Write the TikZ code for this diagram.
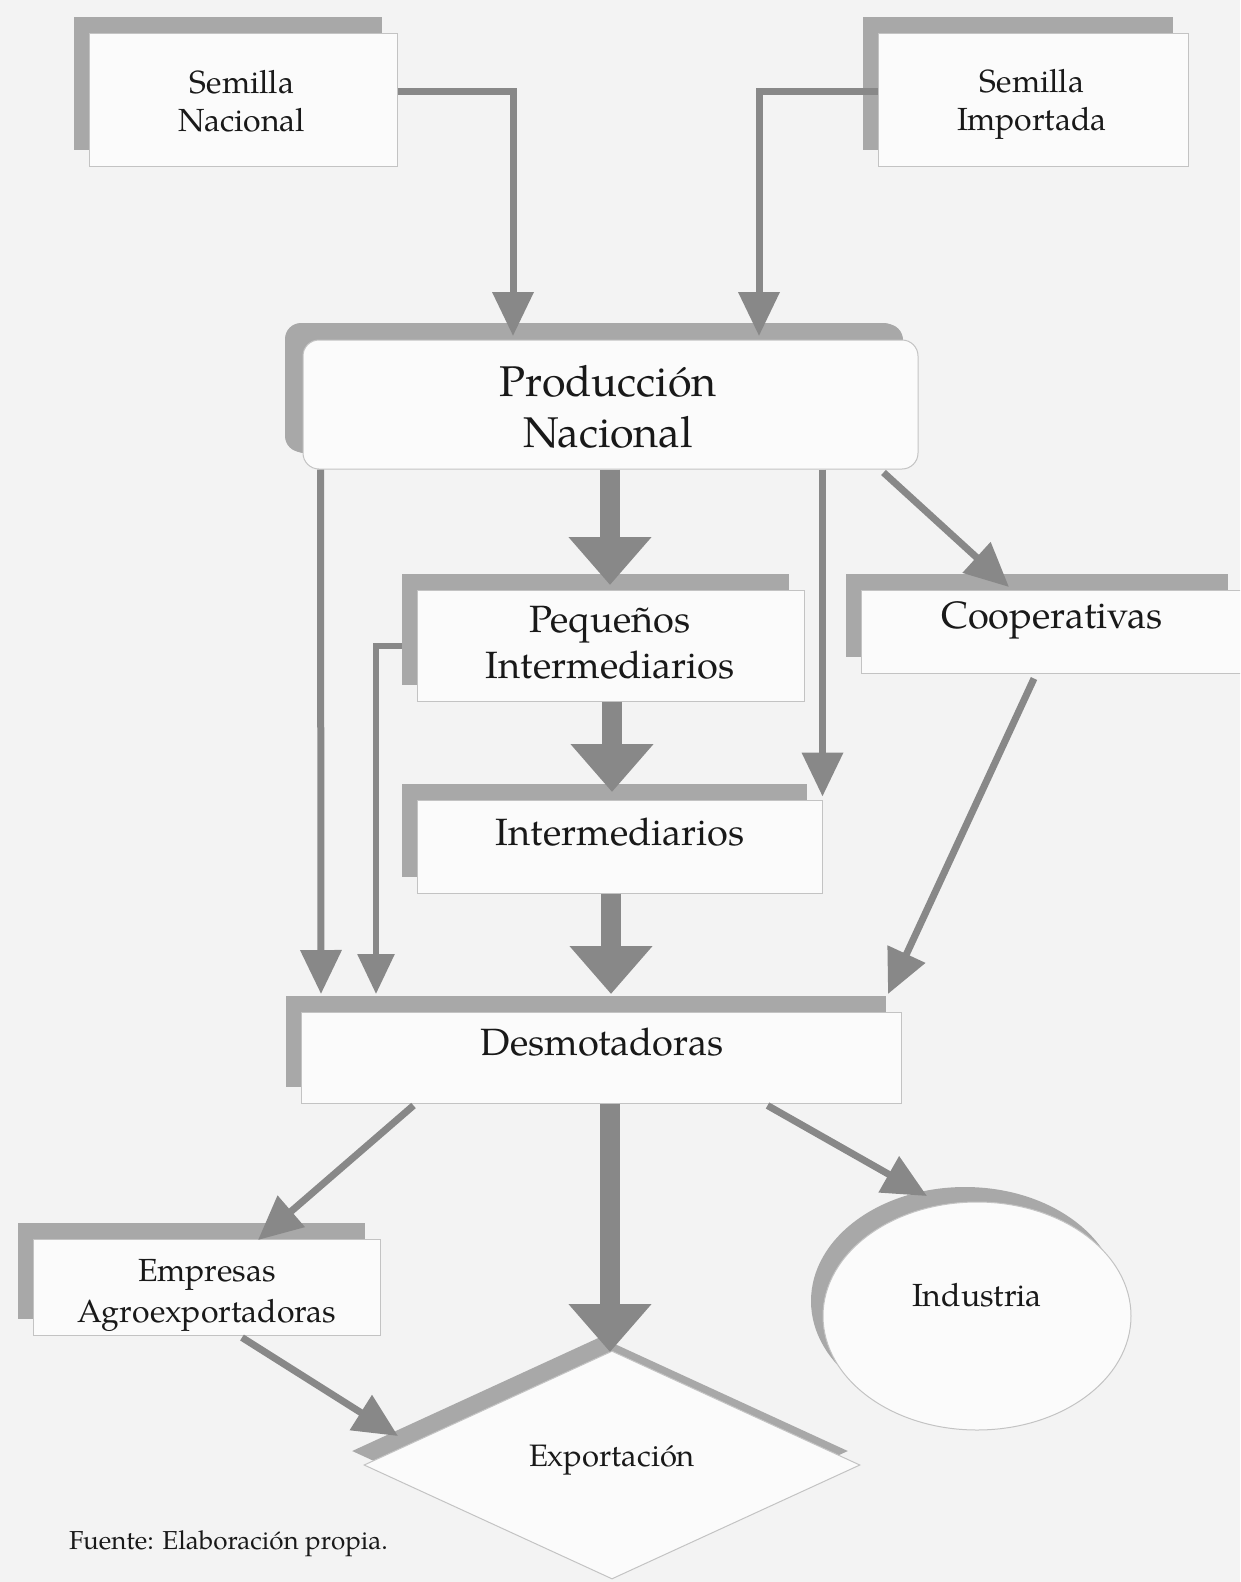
\documentclass[tikz,border=0pt]{standalone}
\usepackage{fontspec}
\setmainfont{TeX Gyre Pagella}
\usetikzlibrary{arrows.meta,shapes.geometric,shadows,calc}
\definecolor{bg}{RGB}{243,243,243}
\definecolor{boxfill}{RGB}{251,251,251}
\definecolor{boxline}{RGB}{195,195,195}
\definecolor{shade}{RGB}{168,168,168}
\definecolor{arrowc}{RGB}{136,136,136}
\definecolor{ink}{RGB}{25,25,25}
\begin{document}
\begin{tikzpicture}[x=1pt,y=-1pt,
  box/.style={draw=boxline, line width=1pt, fill=boxfill, rectangle, inner sep=0pt,
    general shadow={shadow xshift=-15pt, shadow yshift=16pt, fill=shade}},
  rbox/.style={box, rounded corners=16pt,
    general shadow={shadow xshift=-18pt, shadow yshift=17pt, fill=shade}},
  ellbox/.style={draw=boxline, line width=1pt, fill=boxfill, ellipse, inner sep=0pt,
    general shadow={shadow xshift=-12pt, shadow yshift=15pt, fill=shade}},
  diabox/.style={draw=boxline, line width=1pt, fill=boxfill, diamond, inner sep=0pt,
    general shadow={shadow xshift=-12pt, shadow yshift=14pt, fill=shade}},
  txt/.style={text=ink, align=center, inner sep=0pt},
  tS/.style={txt, font=\fontsize{32}{38}\selectfont},
  tM/.style={txt, font=\fontsize{38}{46}\selectfont},
  tL/.style={txt, font=\fontsize{43}{51}\selectfont},
  thin/.style={draw=arrowc, line width=7pt, line join=miter,
    -{Triangle[width=40pt,length=44pt]}},
  thinner/.style={draw=arrowc, line width=6pt, line join=miter,
    -{Triangle[width=36pt,length=40pt]}},
  fat/.style={draw=arrowc, line width=20pt,
    -{Triangle[width=80pt,length=48pt]}}
]
\useasboundingbox (0,0) rectangle (1240,1582);
\fill[bg] (0,0) rectangle (1240,1582);
\clip (0,0) rectangle (1240,1582);

% boxes
\node[box, minimum width=308pt, minimum height=133pt] (sn) at (243,99.5) {};
\node[box, minimum width=310pt, minimum height=133pt] (si) at (1033,99.5) {};
\node[rbox, minimum width=615pt, minimum height=129pt] (pn) at (610.5,404.5) {};
\node[box, minimum width=387pt, minimum height=111pt] (pi) at (610.5,645.5) {};
\node[box, minimum width=382pt, minimum height=83pt] (coop) at (1052,631.5) {};
\node[box, minimum width=405pt, minimum height=93pt] (int) at (619.5,846.5) {};
\node[box, minimum width=600pt, minimum height=91pt] (desm) at (601,1057.5) {};
\node[box, minimum width=347pt, minimum height=96pt] (emp) at (206.5,1287) {};
\node[ellbox, minimum width=308pt, minimum height=228pt] (ind) at (977,1316) {};
\node[diabox, minimum width=496pt, minimum height=228pt] (exp) at (612,1465) {};

% texts
\node[tS] (snT) at (242,101) {Semilla\\Nacional};
\node[tS] (siT) at (1032,104) {Semilla\\Importada};
\node[tL] (pnT) at (608,407) {Producción\\Nacional};
\node[tM] (piT) at (610,643) {Pequeños\\Intermediarios};
\node[tM] (coopT) at (1052,620) {Cooperativas};
\node[tM] (intT) at (620,832) {Intermediarios};
\node[tM] (desmT) at (602,1042) {Desmotadoras};
\node[txt, font=\fontsize{32}{41}\selectfont] (empT) at (207,1295) {Empresas\\Agroexportadoras};
\node[tS] (indT) at (977,1295) {Industria};
\node[txt, font=\fontsize{31}{37}\selectfont] (expT) at (612,1460) {Exportación};
\node[txt, anchor=west, font=\fontsize{26}{31}\selectfont] (src) at (69,1544) {Fuente: Elaboración propia.};

% connector ends
\coordinate (aSN) at (513,336);
\coordinate (aSI) at (759,336);
\coordinate (piA) at (610,585);
\coordinate (cA) at (1009,587);
\coordinate (intA) at (612,792);
\coordinate (dA) at (321,994);
\coordinate (dB) at (376,994);
\coordinate (dC) at (611,994);
\coordinate (dD) at (888,994);
\coordinate (eA) at (258,1240);
\coordinate (xA) at (610,1352);
\coordinate (iA) at (927,1196);
\coordinate (xB) at (398,1436);

% connectors
\draw[thin] ([yshift=8.5pt]sn.east) -| (aSN);
\draw[thin] ([yshift=8.5pt]si.west) -| (aSI);
\draw[thin] ([xshift=18pt]pn.south west) -- (dA);
\draw[fat] ([xshift=-0.5pt]pn.south) -- (piA);
\draw[thin] ([xshift=-96pt]pn.south east) -- ([yshift=3pt]int.north east);
\draw[thin] ([xshift=-35pt,yshift=-3pt]pn.south east) -- (cA);
\draw[fat] ([xshift=1.5pt]pi.south) -- (intA);
\draw[thinner] ([xshift=-15pt]pi.west) -| (dB);
\draw[fat] ([xshift=-8.5pt]int.south) -- (dC);
\draw[thin] ([xshift=-18pt,yshift=-5pt]coop.south) -- (dD);
\draw[thin] ([xshift=113pt,yshift=-2pt]desm.south west) -- (eA);
\draw[fat] ([xshift=9pt]desm.south) -- (xA);
\draw[thin] ([xshift=-134pt,yshift=-2pt]desm.south east) -- (iA);
\draw[thin] ([xshift=35.5pt,yshift=-2pt]emp.south) -- (xB);
\end{tikzpicture}
\end{document}
